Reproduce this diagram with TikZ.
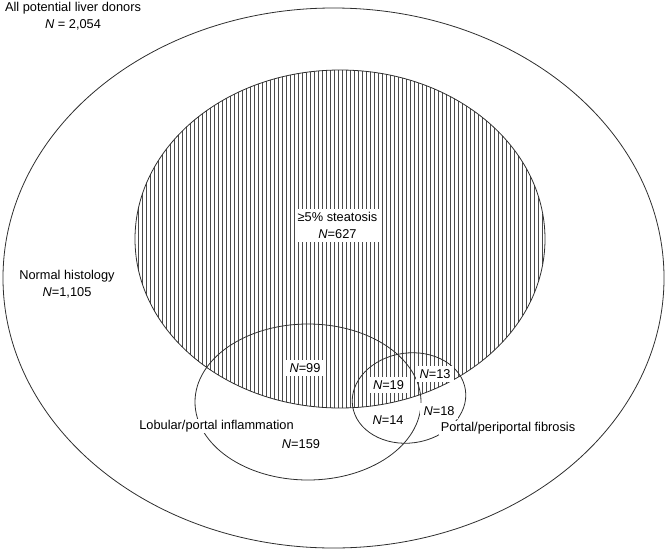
\documentclass[tikz,border=0pt]{standalone}
\usepackage{fontspec}
\setmainfont{Liberation Sans}
\usepackage{tikz}
\usetikzlibrary{positioning}
\definecolor{inkline}{HTML}{2E2E2E}
\definecolor{inkhatch}{HTML}{4A4A4A}
\newcommand{\nn}{\textit{N}}

\begin{document}
\begin{tikzpicture}[
  x=0.75pt, y=-0.75pt,
  set/.style={draw=inkline, line width=0.6pt},
  hatch/.style={draw=inkhatch, line width=0.5pt},
  lbl/.style={fill=white, inner xsep=1.5pt, inner ysep=2.5pt, align=center, font=\fontsize{9.6}{13}\selectfont},
  cnt/.style={lbl, inner xsep=3pt}
]
\useasboundingbox (0,0) rectangle (667,550);

\coordinate (all) at (333.5,278);
\coordinate (steat) at (340,239);
\coordinate (infl) at (308,402);
\coordinate (fib) at (409,398);

% hatched steatosis set
\begin{scope}
  \clip (steat) ellipse [x radius=205, y radius=169];
  \foreach \x in {134,138,...,548}
    \draw[hatch] (\x,60) -- (\x,415);
\end{scope}

\draw[set] (all) ellipse [x radius=330.5, y radius=270];
\draw[set] (steat) ellipse [x radius=205, y radius=169];
\draw[set] (infl) ellipse [x radius=113, y radius=78];
\draw[set, rotate around={8:(fib)}] (fib) ellipse [x radius=57, y radius=45];

\node[lbl, fill=none] (donors) at (73,16) {All potential liver donors\\\nn{} = 2,054};
\node[lbl, fill=none] (normal) at (67,284) {Normal histology\\\nn=1,105};
\node[lbl] (steatosis) at (337.5,225.5) {≥5\% steatosis\\\nn=627};
\node[cnt] (n99) at (305,368) {\nn=99};
\node[cnt] (n19) at (388.5,385) {\nn=19};
\node[cnt] (n13) at (435,374) {\nn=13};
\node[cnt] (n14) at (388,420) {\nn=14};
\node[cnt] (n18) at (439,411) {\nn=18};
\node[lbl, inner ysep=1pt] (lobular) at (216.5,426) {Lobular/portal inflammation};
\node[lbl, fill=none] (n159) at (301,444) {\nn=159};
\node[lbl, inner ysep=1pt] (portal) at (508,428) {Portal/periportal fibrosis};
\end{tikzpicture}
\end{document}
